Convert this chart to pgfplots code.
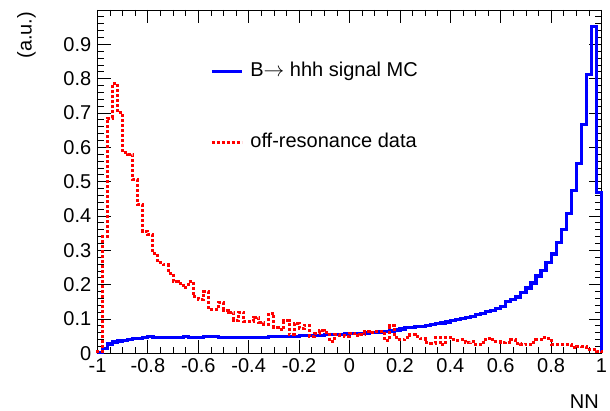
\documentclass[border=0pt]{standalone}
\usepackage{fontspec}
\setmainfont{Liberation Sans}
\usepackage{pgfplots}
\pgfplotsset{compat=1.18}
\usepackage{pgfplotstable}
\pgfplotstableread{
x sig bkg
-1.00 0 0
-1.00 0.003 0.005
-0.98 0.015 0.34
-0.96 0.027 0.685
-0.94 0.033 0.785
-0.92 0.036 0.70
-0.90 0.038 0.585
-0.88 0.040 0.58
-0.86 0.043 0.505
-0.84 0.044 0.432
-0.82 0.045 0.355
-0.80 0.049 0.345
-0.78 0.047 0.29
-0.76 0.047 0.265
-0.74 0.046 0.259
-0.72 0.046 0.233
-0.70 0.046 0.209
-0.68 0.047 0.204
-0.66 0.049 0.192
-0.64 0.046 0.209
-0.62 0.045 0.165
-0.60 0.047 0.157
-0.58 0.049 0.18
-0.56 0.050 0.128
-0.54 0.049 0.128
-0.52 0.047 0.148
-0.50 0.045 0.126
-0.48 0.045 0.12
-0.46 0.047 0.097
-0.44 0.047 0.12
-0.42 0.047 0.092
-0.40 0.047 0.092
-0.38 0.046 0.105
-0.36 0.046 0.09
-0.34 0.047 0.085
-0.32 0.049 0.117
-0.30 0.049 0.075
-0.28 0.049 0.07
-0.26 0.050 0.095
-0.24 0.050 0.055
-0.22 0.050 0.087
-0.20 0.051 0.073
-0.18 0.052 0.082
-0.16 0.053 0.049
-0.14 0.053 0.059
-0.12 0.053 0.066
-0.10 0.054 0.062
-0.08 0.054 0.035
-0.06 0.055 0.055
-0.04 0.055 0.052
-0.02 0.056 0.049
0.00 0.057 0.058
0.02 0.058 0.051
0.04 0.058 0.056
0.06 0.059 0.063
0.08 0.060 0.060
0.10 0.061 0.063
0.12 0.062 0.063
0.14 0.063 0.038
0.16 0.065 0.080
0.18 0.068 0.046
0.20 0.071 0.039
0.22 0.074 0.045
0.24 0.076 0.054
0.26 0.078 0.050
0.28 0.079 0.043
0.30 0.080 0.032
0.32 0.083 0.030
0.34 0.086 0.047
0.36 0.088 0.025
0.38 0.091 0.046
0.40 0.095 0.040
0.42 0.099 0.038
0.44 0.102 0.040
0.46 0.105 0.031
0.48 0.107 0.033
0.50 0.112 0.025
0.52 0.117 0.032
0.54 0.121 0.044
0.56 0.125 0.040
0.58 0.130 0.035
0.60 0.137 0.031
0.62 0.150 0.032
0.64 0.157 0.040
0.66 0.164 0.028
0.68 0.176 0.025
0.70 0.190 0.027
0.72 0.205 0.032
0.74 0.225 0.040
0.76 0.241 0.046
0.78 0.264 0.044
0.80 0.289 0.027
0.82 0.322 0.027
0.84 0.361 0.027
0.86 0.408 0.027
0.88 0.474 0.017
0.90 0.554 0.021
0.92 0.666 0.020
0.94 0.812 0.012
0.96 0.952 0.010
0.98 0.468 0.006
1.00 0.468 0.006
1.00 0 0
}\hist
\begin{document}
\begin{tikzpicture}
\begin{axis}[
  scale only axis, width=504bp, height=343.3bp,
  xmin=-1, xmax=1, ymin=0, ymax=1,
  clip=false,
  font=\fontsize{20bp}{24bp}\selectfont,
  /pgf/number format/assume math mode=true,
  xtick={-1,-0.8,-0.6,-0.4,-0.2,0,0.2,0.4,0.6,0.8,1},
  ytick={0,0.1,0.2,0.3,0.4,0.5,0.6,0.7,0.8,0.9},
  minor xtick={-0.95,-0.9,-0.85,-0.75,-0.7,-0.65,-0.55,-0.5,-0.45,-0.35,-0.3,-0.25,-0.15,-0.1,-0.05,0.05,0.1,0.15,0.25,0.3,0.35,0.45,0.5,0.55,0.65,0.7,0.75,0.85,0.9,0.95},
  minor ytick={0.02,0.04,0.06,0.08,0.12,0.14,0.16,0.18,0.22,0.24,0.26,0.28,0.32,0.34,0.36,0.38,0.42,0.44,0.46,0.48,0.52,0.54,0.56,0.58,0.62,0.64,0.66,0.68,0.72,0.74,0.76,0.78,0.82,0.84,0.86,0.88,0.92,0.94,0.96,0.98},
  major tick length=13bp, minor tick length=6.5bp,
  tick style={black, line width=0.8bp},
  axis line style={line width=0.9bp},
  xticklabel style={inner sep=0pt, anchor=north, yshift=-5bp},
  yticklabel style={inner sep=0pt, anchor=east, xshift=-6bp},
  xlabel={NN},
  xlabel style={at={(axis description cs:0.995,-0.16)}, anchor=base east, inner sep=0pt},
  ylabel={(a.u.)},
  ylabel style={at={(axis description cs:-0.122,0.995)}, anchor=south east, inner sep=0pt},
  legend cell align=left,
  legend style={draw=none, fill=none, at={(axis description cs:0.2232,0.8465)}, anchor=north west,
    inner sep=0pt, row sep=53bp, column sep=7bp,
    nodes={inner sep=0pt, text height=14bp, text depth=4bp}},
  legend image code/.code={\draw[#1] (0bp,0bp) -- (30bp,0bp);},
]
\addplot[const plot, blue, line width=3.2bp] table[x=x, y=sig] {\hist};
\addlegendentry{B$\rightarrow$ hhh signal MC}
\addplot[const plot, red, line width=3bp, dash pattern=on 3bp off 2bp] table[x=x, y=bkg] {\hist};
\addlegendentry{off-resonance data}
\end{axis}
\pgfresetboundingbox
\path ([shift={(-97.5bp,-57.7bp)}]current axis.south west) rectangle ([shift={(8.5bp,10bp)}]current axis.north east);
\end{tikzpicture}
\end{document}
